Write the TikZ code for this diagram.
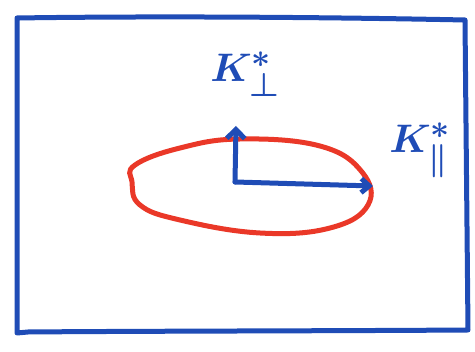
\documentclass[tikz,border=0pt]{standalone}
\usepackage{amsmath,amssymb,bm}
\usepackage{xcolor}
\usepackage{tikz}
\usetikzlibrary{positioning,arrows.meta}
\definecolor{penblue}{RGB}{31,76,182}
\definecolor{penred}{RGB}{234,56,40}
\tikzset{
  ink/.style={line width=5pt,line cap=round,line join=round},
  lbl/.style={text=penblue,inner sep=0pt,scale=1.6,font=\Huge\boldmath}
}
\begin{document}
\begin{tikzpicture}[x=1pt,y=-1pt]
\useasboundingbox (0,0) rectangle (475,352);
% frame
\draw[ink,penblue] (17,18) .. controls (150,16) and (320,17) .. (465,20)
  -- (468,330) .. controls (320,331) and (150,331) .. (28,332) -- (17,333) -- cycle;
% ellipse
\draw[ink,penred,smooth cycle,tension=0.7] plot coordinates {
  (135,165) (180,148) (240,139) (320,146) (362,172) (368,205)
  (330,228) (260,233) (180,220) (140,205) (132,182)};
% axes
\coordinate (o) at (235,182);
\coordinate (kperp) at (236,126);
\coordinate (kpar) at (373,186);
\draw[ink,penblue,-{Straight Barb[length=9pt,width=18pt]}] (o) -- (kperp);
\draw[ink,penblue,-{Straight Barb[length=8pt,width=14pt]}] (o) -- (kpar);
\node[lbl] (perp) at (245,74) {$K^{*}_{\perp}$};
\node[lbl] (par) at (420,150) {$K^{*}_{\parallel}$};
\end{tikzpicture}
\end{document}
